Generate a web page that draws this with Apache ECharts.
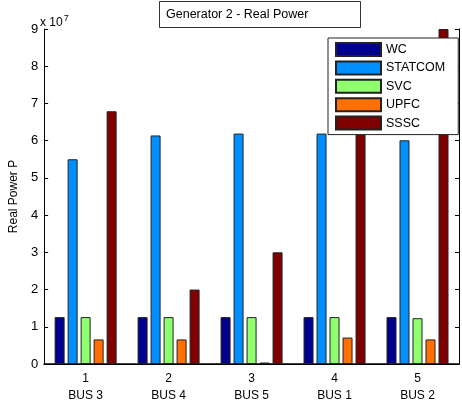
<!DOCTYPE html>
<html><head><meta charset="utf-8">
<script src="https://cdn.jsdelivr.net/npm/echarts@6/dist/echarts.min.js"></script>
<style>html,body{margin:0;padding:0;background:#fff}#c{width:462px;height:404px}</style>
</head><body><div id="c"></div>
<script>
var categories = ['1','2','3','4','5'];
var busNames = ['BUS 3','BUS 4','BUS 5','BUS 1','BUS 2'];
var seriesNames = ['WC','STATCOM','SVC','UPFC','SSSC'];
var WC      = [12600000, 12600000, 12600000, 12600000, 12600000];
var STATCOM = [55000000, 61400000, 61900000, 61900000, 60100000];
var SVC     = [12600000, 12600000, 12600000, 12600000, 12300000];
var UPFC    = [6600000, 6600000, 400000, 7100000, 6600000];
var SSSC    = [67900000, 20000000, 30000000, 80000000, 90000000];
var yTicks = [0,1,2,3,4,5,6,7,8,9];
var colors = ['#00008F','#008FFF','#8FFF70','#FF7000','#800000'];
var allData = [WC, STATCOM, SVC, UPFC, SSSC];
var FONT = 'Liberation Sans, Arial, sans-serif';

var chart = echarts.init(document.getElementById('c'), null, {renderer:'canvas'});
var series = seriesNames.map(function(n,i){
  return {name:n, type:'bar', data:allData[i], barWidth:10, barGap:'30%',
    itemStyle:{color:colors[i], borderColor:'#222', borderWidth:1}, animation:false};
});
chart.setOption({
  animation:false,
  title:{text:'Generator 2 - Real Power', left:159, top:1,
    padding:[7,52,6,7], borderColor:'#333', borderWidth:1, backgroundColor:'#fff',
    textStyle:{fontSize:12.5, fontWeight:'normal', color:'#000', fontFamily:FONT, lineHeight:14}},
  grid:{left:41, right:3, top:29, bottom:38},
  legend:{orient:'vertical', left:328, top:38, width:130,
    itemWidth:45, itemHeight:13, itemGap:3.4, padding:[4,13,4,7],
    borderColor:'#222', borderWidth:1, backgroundColor:'#fff', icon:'rect',
    textStyle:{fontSize:12.5, color:'#000', fontFamily:FONT, lineHeight:14}, data:seriesNames},
  xAxis:[{type:'category', data:categories, position:'bottom',
      axisLine:{lineStyle:{color:'#000', width:1.5}},
      axisTick:{inside:true, alignWithLabel:true, length:4, lineStyle:{color:'#000'}},
      axisLabel:{color:'#000', fontSize:12, fontFamily:FONT, lineHeight:17, margin:6,
        formatter:function(v, idx){return v + '\n' + busNames[idx];}}},
    {type:'category', data:categories, position:'top',
      axisLine:{lineStyle:{color:'#000'}},
      axisTick:{inside:true, alignWithLabel:true, length:4, lineStyle:{color:'#000'}},
      axisLabel:{show:false}}],
  yAxis:[{type:'value', min:0, max:90000000, interval:10000000, position:'left',
      name:'Real Power P', nameLocation:'middle', nameGap:20, nameRotate:90,
      nameTextStyle:{fontSize:12, color:'#000', fontFamily:FONT},
      axisLine:{show:true, lineStyle:{color:'#000'}},
      axisTick:{show:true, inside:true, length:4, lineStyle:{color:'#000'}},
      splitLine:{show:false},
      axisLabel:{color:'#000', fontSize:13, fontFamily:FONT, margin:6,
        formatter:function(v){return String(yTicks[Math.round(v/10000000)]);}}},
    {type:'value', min:0, max:90000000, interval:10000000, position:'right',
      axisLine:{show:true, lineStyle:{color:'#000'}},
      axisTick:{show:true, inside:true, length:4, lineStyle:{color:'#000'}},
      splitLine:{show:false}, axisLabel:{show:false}}],
  graphic:[{type:'text', left:40, top:14, style:{
      text:'{a|x 10}{b|7}', rich:{a:{fontSize:12, fontFamily:FONT, fill:'#000'},
        b:{fontSize:9, fontFamily:FONT, fill:'#000', verticalAlign:'top', padding:[0,0,8,1]}}}}],
  series:series
});
</script></body></html>
